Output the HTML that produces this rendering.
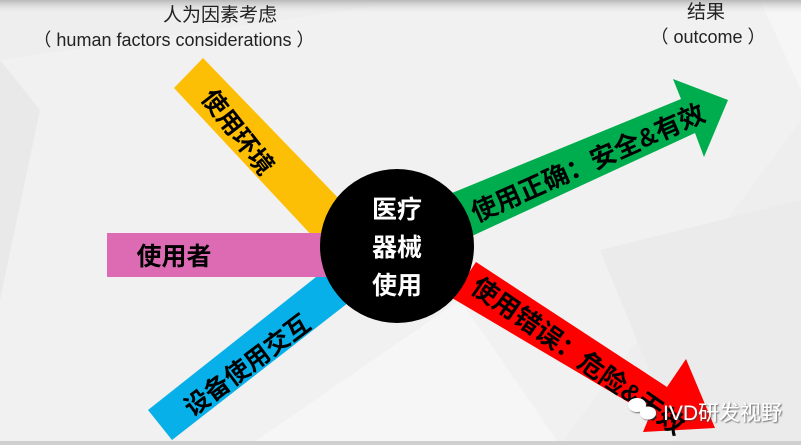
<!DOCTYPE html>
<html><head><meta charset="utf-8"><style>
html,body{margin:0;padding:0;}
body{width:801px;height:445px;overflow:hidden;background:#efefef;font-family:"Liberation Sans","Noto Sans CJK SC",sans-serif;}
</style></head><body>
<svg width="801" height="445" viewBox="0 0 801 445" xmlns="http://www.w3.org/2000/svg" style="position:absolute;left:0;top:0">
<defs>
<linearGradient id="tb" x1="0" y1="0" x2="0" y2="1"><stop offset="0" stop-color="#b8b8b8"/><stop offset="1" stop-color="#efefef" stop-opacity="0"/></linearGradient>
<filter id="sh"><feDropShadow dx="1" dy="1" stdDeviation="0.8" flood-color="#444" flood-opacity="0.8"/></filter>
</defs>
<rect width="801" height="445" fill="#eeeeee"/>
<polygon points="0,60 420,0 801,0 801,120 560,445 0,445" fill="#f1f1f1"/>
<polygon points="0,60 40,110 0,300" fill="#e9e9e9"/>
<polygon points="250,445 460,300 560,445" fill="#f6f6f6"/>
<polygon points="600,250 801,200 801,445 680,445" fill="#ebebeb"/>
<polygon points="760,0 801,0 801,90" fill="#f6f6f6"/>
<rect x="0" y="0" width="801" height="14" fill="url(#tb)"/>
<rect x="0" y="441" width="801" height="4" fill="#cfcfcf"/>

<text x="220" y="21" font-size="19" fill="#222" text-anchor="middle">人为因素考虑</text>
<text x="174" y="46" font-size="18" fill="#222" text-anchor="middle">（ human factors considerations ）</text>
<text x="706" y="18" font-size="19" fill="#222" text-anchor="middle">结果</text>
<text x="708" y="43" font-size="18" fill="#222" text-anchor="middle">（ outcome ）</text>

<polygon points="174,88 203,58 345,205 316,240" fill="#fdbf05"/>
<polygon points="148,410 172,440 362,292 335,262" fill="#07b0e8"/>
<rect x="107" y="233" width="220" height="44" fill="#dc6bb3"/>
<polygon points="452,193 681,99 673,79 728,100 704,157 695,133 472,236" fill="#00ad4e"/>
<polygon points="476,262 667,387 686,359 715,428 643,432 650,415 452,298" fill="#fe0000"/>

<circle cx="397" cy="246" r="77" fill="#000"/>
<g font-weight="bold" font-size="25" fill="#fff" text-anchor="middle">
<text x="397" y="218">医疗</text>
<text x="397" y="256">器械</text>
<text x="397" y="294">使用</text>
</g>
<g font-weight="bold" font-size="25" fill="#000" text-anchor="middle">
<text x="174" y="265">使用者</text>
<text transform="translate(238,132) rotate(52)" y="9">使用环境</text>
<text transform="translate(247,365) rotate(-37)" y="9">设备使用交互</text>
<text transform="translate(588,163) rotate(-24)" y="9" font-size="26">使用正确：安全&amp;有效</text>
<text transform="translate(578,356) rotate(35)" y="9" font-size="26">使用错误：危险&amp;无效</text>
</g>
<g filter="url(#sh)">
<ellipse cx="637" cy="405" rx="9" ry="7" fill="#fff"/>
<ellipse cx="648" cy="413" rx="8" ry="6.5" fill="#fff"/>
<text x="663" y="420" font-size="21" fill="#fff">IVD研发视野</text>
</g>
</svg>
</body></html>
